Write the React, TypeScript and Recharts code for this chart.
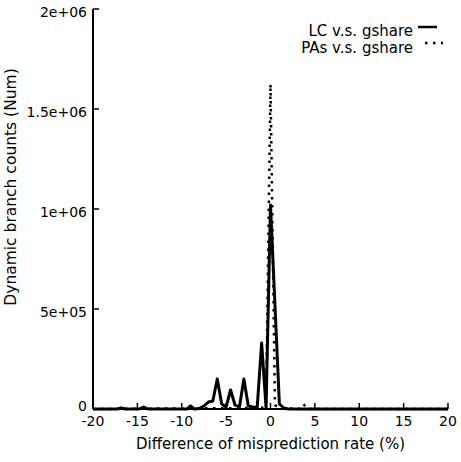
import React from 'react';
import { LineChart, Line, XAxis, YAxis, Legend } from 'recharts';

const FONT = '"DejaVu Sans", sans-serif';

// tick positions and their printed labels (gnuplot style)
const xTicks = [-20, -15, -10, -5, 0, 5, 10, 15, 20];
const yTicks = [0, 500000, 1000000, 1500000, 2000000];
const yTickLabels = ['0', '5e+05', '1e+06', '1.5e+06', '2e+06'];

// LC v.s. gshare (solid)
const lcX = [-20, -17.2, -16.8, -16.4, -14.8, -14.3, -13.8, -9.4, -9, -8.6, -8, -7.5, -7, -6.5, -6, -5.5, -5, -4.5, -4, -3.5, -3, -2.5, -2, -1.5, -1, -0.5, 0, 1, 1.5, 2, 20];
const lcY = [0, 0, 6000, 0, 0, 10000, 0, 0, 15000, 0, 3000, 15000, 35000, 40000, 150000, 25000, 10000, 95000, 20000, 10000, 150000, 15000, 10000, 8000, 330000, 8000, 1020000, 25000, 5000, 0, 0];

// PAs v.s. gshare (dotted)
const pasX = [-20, -1, -0.5, 0, 0.5, 1, 3.2, 3.7, 4.2, 20];
const pasY = [0, 5000, 20000, 1625000, 20000, 5000, 0, 25000, 0, 0];

const lcData = lcX.map((x, i) => ({ x, y: lcY[i] }));
const pasData = pasX.map((x, i) => ({ x, y: pasY[i] }));

const legendItems = [
  { name: 'LC v.s. gshare', dash: undefined as string | undefined },
  { name: 'PAs v.s. gshare', dash: '2.5 5.5' },
];

const LegendBox = () => (
  <svg width={461} height={60} style={{ display: 'block' }}>
    {legendItems.map((item, i) => (
      <g key={item.name}>
        <text x={413} y={31 + i * 17} textAnchor="end" dominantBaseline="central" fontSize={15} fontFamily={FONT} fill="#000">
          {item.name}
        </text>
        <line x1={418 + i * 7} x2={437 + i * 6} y1={27 + i * 16} y2={27 + i * 16} stroke="#000" strokeWidth={2.5} strokeDasharray={item.dash} />
      </g>
    ))}
  </svg>
);

const YTitle = (props: any) => {
  const vb = props.viewBox || { x: 0, y: 0, height: 0 };
  const cx = vb.x + 11;
  const cy = vb.y + vb.height / 2 - 22;
  return (
    <text x={cx} y={cy} transform={`rotate(-90, ${cx}, ${cy})`} textAnchor="middle" dominantBaseline="central" fontSize={15.5} fontFamily={FONT} fill="#000">
      Dynamic branch counts (Num)
    </text>
  );
};

// y tick labels sit a little below their ticks, except the "0" which is lifted clear of "-20"
const YTick = (props: any) => {
  const { x, y, payload } = props;
  const v = payload.value;
  return (
    <text x={x} y={y} dy={v === 0 ? -3 : 3} textAnchor="end" dominantBaseline="central" fontSize={14} fontFamily={FONT} fill="#000">
      {yTickLabels[yTicks.indexOf(v)] ?? ''}
    </text>
  );
};

const tickStyle = { fontSize: 14, fill: '#000', fontFamily: FONT };
const axisLine = { stroke: '#000', strokeWidth: 2 };
const tickLine = { stroke: '#000', strokeWidth: 1.5 };

export default function App() {
  return (
    <div style={{ position: 'absolute', left: 0, top: 0, background: '#fff' }}>
      <LineChart width={461} height={462} margin={{ top: 9, right: 13, bottom: 0, left: 0 }} style={{ fontFamily: FONT }}>
        <XAxis
          xAxisId="bottom"
          dataKey="x"
          type="number"
          domain={[-20, 20]}
          ticks={xTicks}
          height={53}
          tick={tickStyle}
          tickSize={-6}
          tickMargin={13}
          axisLine={axisLine}
          tickLine={tickLine}
          label={{ value: 'Difference of misprediction rate (%)', position: 'insideBottom', offset: 13, fontSize: 15, fill: '#000', fontFamily: FONT }}
          allowDuplicatedCategory={false}
        />
        <XAxis
          xAxisId="top"
          orientation="top"
          dataKey="x"
          type="number"
          domain={[-20, 20]}
          ticks={xTicks}
          height={0}
          tickFormatter={() => ''}
          tickSize={-6}
          axisLine={axisLine}
          tickLine={tickLine}
        />
        <YAxis
          yAxisId="left"
          type="number"
          domain={[0, 2000000]}
          ticks={yTicks}
          width={93}
          tick={<YTick />}
          tickSize={-6}
          tickMargin={12}
          axisLine={axisLine}
          tickLine={tickLine}
          label={{ content: YTitle }}
        />
        <YAxis
          yAxisId="right"
          orientation="right"
          type="number"
          domain={[0, 2000000]}
          ticks={yTicks}
          width={0}
          tickFormatter={() => ''}
          tickSize={-6}
          axisLine={axisLine}
          tickLine={tickLine}
        />
        <Legend
          layout="vertical"
          verticalAlign="middle"
          align="center"
          content={() => <LegendBox />}
          wrapperStyle={{ position: 'absolute', left: 0, top: 0, width: 461, height: 60 }}
        />
        <Line
          xAxisId="bottom"
          yAxisId="left"
          data={lcData}
          dataKey="y"
          name="LC v.s. gshare"
          type="linear"
          stroke="#000"
          strokeWidth={3}
          strokeLinejoin="round"
          dot={false}
          isAnimationActive={false}
        />
        <Line
          xAxisId="bottom"
          yAxisId="left"
          data={pasData}
          dataKey="y"
          name="PAs v.s. gshare"
          type="linear"
          stroke="#000"
          strokeWidth={2.5}
          strokeDasharray="2.5 5.5"
          dot={false}
          isAnimationActive={false}
        />
      </LineChart>
    </div>
  );
}
